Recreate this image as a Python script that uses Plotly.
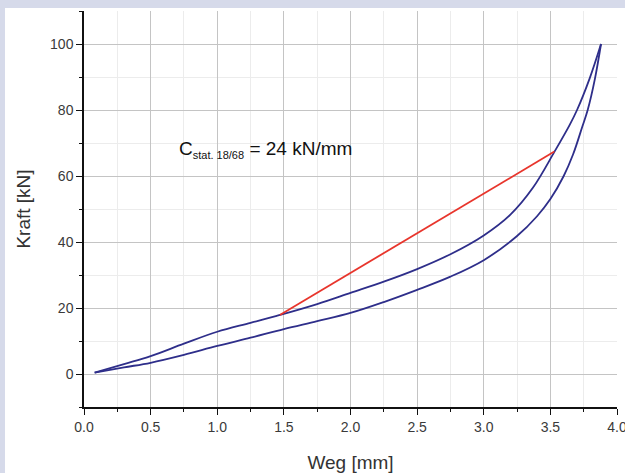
import plotly.graph_objects as go

# Loading curve (lower branch)
load_x = [0.08, 0.3, 0.5, 0.75, 1.0, 1.25, 1.5, 1.75, 2.0, 2.25, 2.5, 2.75, 3.0, 3.25, 3.4, 3.5, 3.6, 3.67, 3.74, 3.78, 3.835, 3.88]
load_y = [0.4, 2.0, 3.4, 5.8, 8.5, 11.0, 13.6, 16.0, 18.5, 21.8, 25.5, 29.5, 34.5, 41.8, 47.8, 53.0, 60.0, 66.5, 75.0, 80.0, 89.6, 100.0]

# Unloading curve (upper branch)
unload_x = [0.08, 0.3, 0.5, 0.75, 1.0, 1.25, 1.47, 1.75, 2.0, 2.25, 2.5, 2.75, 3.0, 3.2, 3.37, 3.53, 3.645, 3.70, 3.795, 3.88]
unload_y = [0.4, 3.0, 5.4, 9.2, 12.8, 15.5, 17.9, 21.2, 24.6, 28.0, 31.8, 36.3, 42.0, 48.3, 56.5, 67.3, 75.5, 80.0, 89.6, 100.0]

# Secant stiffness line between 18 and 68 kN
secant_x = [1.47, 3.53]
secant_y = [17.9, 67.4]

x_ticks = [0.0, 0.5, 1.0, 1.5, 2.0, 2.5, 3.0, 3.5, 4.0]
y_ticks = [0, 20, 40, 60, 80, 100]

FONT = "Liberation Sans, Arial, sans-serif"
BLUE = "#2e2e8a"
RED = "#e8352c"

fig = go.Figure()
fig.add_trace(go.Scatter(x=load_x, y=load_y, mode="lines", line=dict(color=BLUE, width=1.8, shape="spline", smoothing=1.0)))
fig.add_trace(go.Scatter(x=unload_x, y=unload_y, mode="lines", line=dict(color=BLUE, width=1.8, shape="spline", smoothing=1.0)))
fig.add_trace(go.Scatter(x=secant_x, y=secant_y, mode="lines", line=dict(color=RED, width=1.8)))

fig.add_annotation(x=0.7, y=68, xref="x", yref="y", xanchor="left", yanchor="middle",
                   text="C<sub><span style='font-size:11px'>stat. 18/68</span></sub> = 24 kN/mm",
                   showarrow=False, font=dict(family=FONT, size=19, color="#111111"))

# white panel behind the chart (outer frame is lavender)
fig.add_shape(type="rect", xref="paper", yref="paper", x0=-79/533, x1=1.1, y0=-0.2, y1=1 + 3/396,
              fillcolor="white", line=dict(width=0), layer="below")

fig.update_layout(
    width=625, height=473,
    margin=dict(l=84, r=8, t=11, b=66, autoexpand=False),
    paper_bgcolor="#d6daea",
    plot_bgcolor="rgba(0,0,0,0)",
    showlegend=False,
    font=dict(family=FONT, color="#333333"),
)
fig.update_xaxes(
    range=[0, 4], tickvals=x_ticks, tickformat=".1f", automargin=False, ticklabeloverflow="allow",
    showline=True, linecolor="#111111", linewidth=1.5,
    ticks="outside", ticklen=6, tickwidth=1.3, tickcolor="#111111",
    showgrid=True, gridcolor="#c4c4c4", gridwidth=1, zeroline=False,
    minor=dict(dtick=0.25, tick0=0, showgrid=True, gridcolor="#ececec", ticks="outside", ticklen=3, tickcolor="#111111"),
    tickfont=dict(size=14, color="#3a3a3a"),
    title=dict(text="Weg [mm]", font=dict(size=19, color="#333333"), standoff=22),
)
fig.update_yaxes(
    range=[-10, 110], tickvals=y_ticks, automargin=False,
    showline=True, linecolor="#111111", linewidth=1.5,
    ticks="outside", ticklen=6, tickwidth=1.3, tickcolor="#111111",
    showgrid=True, gridcolor="#c4c4c4", gridwidth=1, zeroline=False,
    minor=dict(dtick=10, tick0=0, showgrid=True, gridcolor="#ececec", ticks="outside", ticklen=3, tickcolor="#111111"),
    tickfont=dict(size=14, color="#3a3a3a"),
    title=dict(text="Kraft [kN]", font=dict(size=19, color="#333333"), standoff=14),
)

fig.write_html("out.html", config={"displayModeBar": False},
               post_script="document.body.style.margin='0px';document.body.style.overflow='hidden';")
